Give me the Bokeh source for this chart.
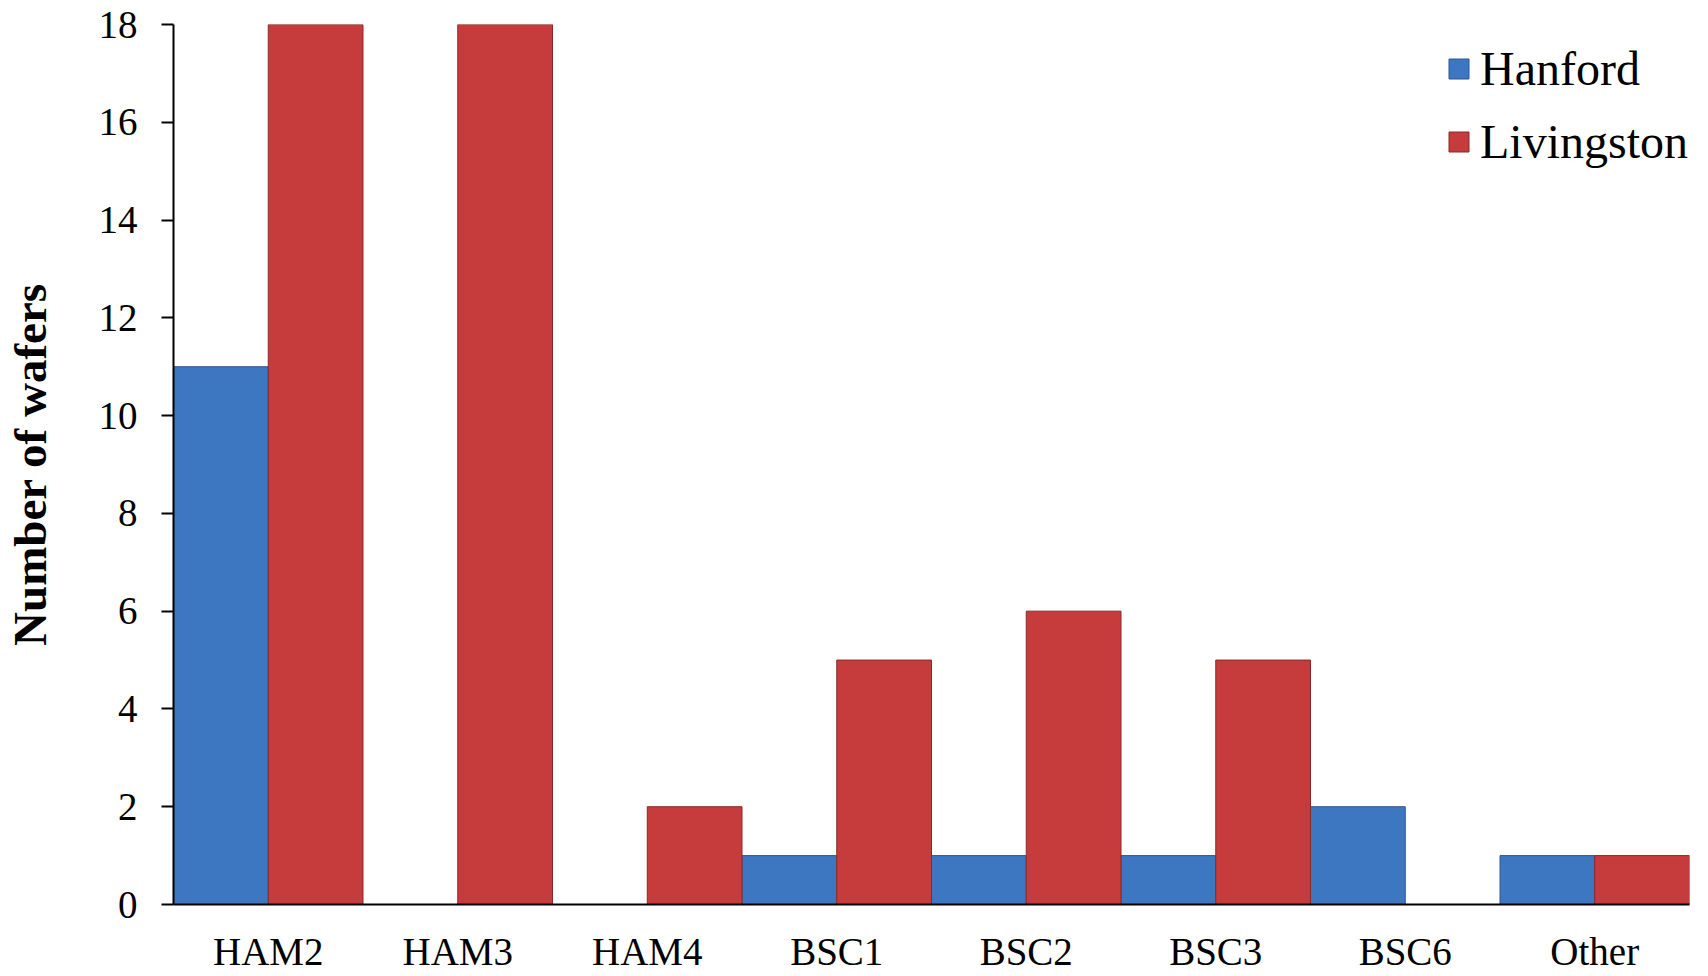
from bokeh.plotting import figure
from bokeh.models import ColumnDataSource, FactorRange, Range1d, FixedTicker, Legend, LegendItem
from bokeh.transform import dodge
from bokeh.embed import file_html
from bokeh.resources import INLINE

categories = ["HAM2", "HAM3", "HAM4", "BSC1", "BSC2", "BSC3", "BSC6", "Other"]
hanford = [11, 0, 0, 1, 1, 1, 2, 1]
livingston = [18, 18, 2, 5, 6, 5, 0, 1]
y_ticks = [0, 2, 4, 6, 8, 10, 12, 14, 16, 18]

source = ColumnDataSource(dict(cat=categories, han=hanford, liv=livingston))

FONT = "Liberation Serif"

p = figure(width=1692, height=975, x_range=FactorRange(*categories, range_padding=0),
           y_range=Range1d(0, 18), output_backend="svg", toolbar_location=None,
           min_border_left=164, min_border_right=3, min_border_top=24, min_border_bottom=40)
p.outline_line_color = None
p.grid.grid_line_color = None
p.background_fill_color = "white"

r1 = p.vbar(x=dodge("cat", -0.25, range=p.x_range), top="han", width=0.5, source=source,
            fill_color="#3d77c2", line_color="#2c568e", line_width=1)
r2 = p.vbar(x=dodge("cat", 0.25, range=p.x_range), top="liv", width=0.5, source=source,
            fill_color="#c63c3c", line_color="#8a2828", line_width=1)

p.yaxis.ticker = FixedTicker(ticks=y_ticks)
p.yaxis.major_tick_out = 12
p.yaxis.major_tick_in = 0
p.yaxis.minor_tick_line_color = None
p.yaxis.major_label_text_font = FONT
p.yaxis.major_label_text_font_size = "39px"
p.yaxis.major_label_text_color = "black"
p.yaxis.major_label_standoff = 24
p.yaxis.axis_line_color = "black"
p.yaxis.axis_line_width = 2
p.yaxis.major_tick_line_width = 2
p.yaxis.axis_label = "Number of wafers"
p.yaxis.axis_label_text_font = FONT
p.yaxis.axis_label_text_font_style = "bold"
p.yaxis.axis_label_text_font_size = "47px"
p.yaxis.axis_label_text_color = "black"
p.yaxis.axis_label_standoff = 40

p.xaxis.major_tick_line_color = None
p.xaxis.minor_tick_line_color = None
p.xaxis.major_tick_out = 0
p.xaxis.axis_line_color = "black"
p.xaxis.axis_line_width = 2
p.xaxis.major_label_text_font = FONT
p.xaxis.major_label_text_font_size = "39px"
p.xaxis.major_label_text_color = "black"
p.xaxis.major_label_standoff = 25
p.xaxis.group_text_font_size = "0px"

legend = Legend(items=[LegendItem(label="Hanford", renderers=[r1]),
                       LegendItem(label="Livingston", renderers=[r2])],
                location=(1273, 735))
legend.label_text_font = FONT
legend.label_text_font_size = "48px"
legend.label_text_color = "black"
legend.glyph_width = 25
legend.glyph_height = 25
legend.label_standoff = 9
legend.spacing = 18
legend.border_line_color = None
legend.background_fill_alpha = 0
legend.margin = 0
legend.padding = 10
p.add_layout(legend)

open("out.html", "w").write(file_html(p, INLINE))
